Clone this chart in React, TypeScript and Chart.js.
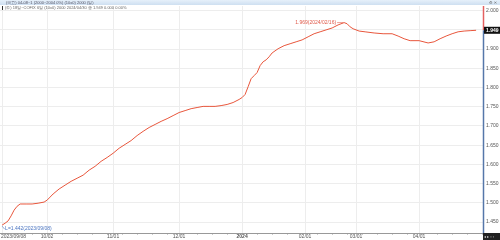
import React, { useEffect, useRef } from "react";
import { Chart, registerables } from "chart.js";
Chart.register(...registerables);

// trading-day index since 2023/09/08
const dayIndex = [0, 1, 2, 3, 4, 5, 6, 8, 10, 12, 14, 15, 16, 17, 19, 21, 23, 25, 27, 29, 31, 33, 35, 37, 39, 41, 43, 45, 47, 49, 51, 53, 55, 57, 59, 61, 63, 65, 67, 69, 71, 73, 75, 77, 79, 80, 81, 82, 83, 84, 85, 86, 87, 88, 89, 90, 92, 94, 96, 98, 100, 102, 104, 106, 108, 110, 112, 114, 115, 116, 117, 119, 121, 124, 127, 130, 132, 134, 136, 139, 142, 144, 146, 148, 150, 152, 154, 156, 158];
const values = [1.442, 1.447, 1.453, 1.466, 1.481, 1.491, 1.497, 1.497, 1.497, 1.499, 1.502, 1.507, 1.515, 1.523, 1.536, 1.546, 1.556, 1.564, 1.572, 1.585, 1.595, 1.608, 1.618, 1.629, 1.642, 1.652, 1.662, 1.675, 1.686, 1.696, 1.704, 1.712, 1.719, 1.727, 1.735, 1.740, 1.745, 1.748, 1.751, 1.751, 1.751, 1.753, 1.756, 1.761, 1.769, 1.774, 1.782, 1.802, 1.823, 1.831, 1.839, 1.857, 1.867, 1.872, 1.880, 1.890, 1.901, 1.909, 1.914, 1.919, 1.924, 1.932, 1.940, 1.945, 1.950, 1.955, 1.963, 1.969, 1.966, 1.958, 1.953, 1.947, 1.945, 1.942, 1.940, 1.940, 1.934, 1.927, 1.922, 1.922, 1.916, 1.919, 1.927, 1.934, 1.940, 1.945, 1.947, 1.948, 1.949];

const tickIndex = [0, 15, 37, 59, 80, 101, 118, 139];
const tickLabels = ["2023/09/08", "10/02", "11/01", "12/01", "2024", "02/01", "03/01", "04/01"];
const yTicks = [1.45, 1.5, 1.55, 1.6, 1.65, 1.7, 1.75, 1.8, 1.85, 1.9, 1.95, 2.0];

const lastValue = 1.949;
const highIndex = 114;
const highLabel = "1.969(2024/02/16)";
const lowIndex = 0;
const lowLabel = "L=1.442(2023/09/08)";
const headerText = "(국고) 04-08~1 (2000~2004 0%) (10x0) 2000 (일)";
const infoText = "(주) 18일~COFIX 6일 (10x0) 2000 2024/04/30 종 1.949 0.000 0.00%";

const FONT = "'Liberation Sans', 'DejaVu Sans', sans-serif";

const decor = {
  id: "decor",
  afterDraw(chart: any) {
    const ctx = chart.ctx;
    const { left, right, top, bottom } = chart.chartArea;
    const xs = chart.scales.x;
    const ys = chart.scales.y;
    ctx.save();
    // header strip
    const g = ctx.createLinearGradient(0, 0, 0, 6);
    g.addColorStop(0, "#e6f0fa");
    g.addColorStop(1, "#c9dcef");
    ctx.fillStyle = g;
    ctx.fillRect(0, 0, 500, 5);
    ctx.font = `4px ${FONT}`;
    ctx.fillStyle = "#556";
    ctx.textBaseline = "middle";
    ctx.textAlign = "left";
    ctx.fillText(headerText, 6, 2.6);
    ctx.fillStyle = "#666";
    ctx.fillText("⚙ ✕", 489, 2.6);
    // info line
    ctx.fillStyle = "#333";
    ctx.fillRect(2, 6, 1, 4);
    ctx.fillStyle = "#666";
    ctx.fillText(infoText, 5, 8.2);

    // x labels
    ctx.textBaseline = "middle";
    tickIndex.forEach((v, i) => {
      const px = xs.getPixelForValue(v);
      ctx.font = (tickLabels[i] === "2024" ? "bold " : "") + `5px ${FONT}`;
      ctx.fillStyle = "#555";
      ctx.textAlign = i === 0 ? "left" : "center";
      ctx.fillText(tickLabels[i], i === 0 ? 1 : px, 237);
    });
    // minor ticks
    ctx.strokeStyle = "#999";
    ctx.lineWidth = 1;
    for (let v = 0; v <= 160; v += 5) {
      const px = Math.round(xs.getPixelForValue(v)) + 0.5;
      ctx.beginPath();
      ctx.moveTo(px, bottom);
      ctx.lineTo(px, bottom + 1.5);
      ctx.stroke();
    }
    // y axis line (red above price, blue below)
    const py = ys.getPixelForValue(lastValue);
    ctx.lineWidth = 1.5;
    ctx.strokeStyle = "#e46060";
    ctx.beginPath();
    ctx.moveTo(right + 0.5, top);
    ctx.lineTo(right + 0.5, py);
    ctx.stroke();
    ctx.strokeStyle = "#5577aa";
    ctx.beginPath();
    ctx.moveTo(right + 0.5, py);
    ctx.lineTo(right + 0.5, bottom + 1);
    ctx.stroke();
    // price box
    ctx.fillStyle = "#111";
    ctx.fillRect(right + 1, py - 3.5, 500 - right, 7);
    ctx.fillStyle = "#fff";
    ctx.font = `bold 5px ${FONT}`;
    ctx.textAlign = "left";
    ctx.fillText(lastValue.toFixed(3), right + 3, py + 0.3);
    // bottom-right box
    ctx.fillStyle = "#222";
    ctx.fillRect(right, bottom, 500 - right, 240 - bottom);
    ctx.fillStyle = "#ccc";
    ctx.font = `4px ${FONT}`;
    ctx.fillText("◂ ▸ ▫ ▫", right + 1, bottom + 3.5);

    // high annotation
    const hx = xs.getPixelForValue(highIndex);
    const hy = ys.getPixelForValue(values[dayIndex.indexOf(highIndex)]);
    ctx.font = `5px ${FONT}`;
    ctx.fillStyle = "#e05a4a";
    ctx.textAlign = "right";
    ctx.fillText(highLabel, hx - 8, hy);
    ctx.strokeStyle = "#e05a4a";
    ctx.lineWidth = 0.6;
    ctx.beginPath();
    ctx.moveTo(hx - 7, hy);
    ctx.lineTo(hx - 1, hy);
    ctx.stroke();
    // low annotation
    const lx = xs.getPixelForValue(lowIndex);
    const ly = ys.getPixelForValue(values[dayIndex.indexOf(lowIndex)]);
    ctx.fillStyle = "#4a74c0";
    ctx.strokeStyle = "#4a74c0";
    ctx.textAlign = "left";
    ctx.fillText(lowLabel, lx + 3, ly + 4);
    ctx.beginPath();
    ctx.moveTo(lx, ly + 1);
    ctx.lineTo(lx + 2.5, ly + 4);
    ctx.stroke();
    ctx.restore();
  },
};

export default function App() {
  const ref = useRef<HTMLCanvasElement>(null);
  useEffect(() => {
    document.body.style.margin = "0";
    const chart = new Chart(ref.current!, {
      type: "line",
      data: {
        datasets: [
          {
            data: dayIndex.map((d, i) => ({ x: d, y: values[i] })),
            borderColor: "#e8563c",
            borderWidth: 1,
            pointRadius: 0,
            tension: 0,
            fill: false,
          },
        ],
      },
      options: {
        responsive: false,
        animation: false,
        layout: { padding: { top: 5, left: 0, right: 0, bottom: 0 } },
        plugins: { legend: { display: false }, tooltip: { enabled: false } },
        scales: {
          x: {
            type: "linear",
            min: -0.7,
            max: 160.3,
            afterBuildTicks: (s: any) => {
              s.ticks = tickIndex.map((v) => ({ value: v }));
            },
            afterFit: (s: any) => {
              s.height = 7;
            },
            ticks: { display: false },
            grid: { color: "#ededed", drawTicks: false },
            border: { color: "#999" },
          },
          y: {
            position: "right",
            min: 1.4215,
            max: 2.0122,
            afterBuildTicks: (s: any) => {
              s.ticks = yTicks.map((v) => ({ value: v }));
            },
            afterFit: (s: any) => {
              s.width = 17;
            },
            ticks: {
              font: { size: 5, family: FONT },
              color: "#555",
              padding: 3,
              callback: (v: any) => Number(v).toFixed(3),
            },
            grid: { color: "#ededed", drawTicks: false },
            border: { display: false },
          },
        },
      },
      plugins: [decor],
    });
    return () => chart.destroy();
  }, []);
  return (
    <div style={{ position: "fixed", left: 0, top: 0, width: 500, height: 240, background: "#fff" }}>
      <canvas ref={ref} width={500} height={240} />
    </div>
  );
}
